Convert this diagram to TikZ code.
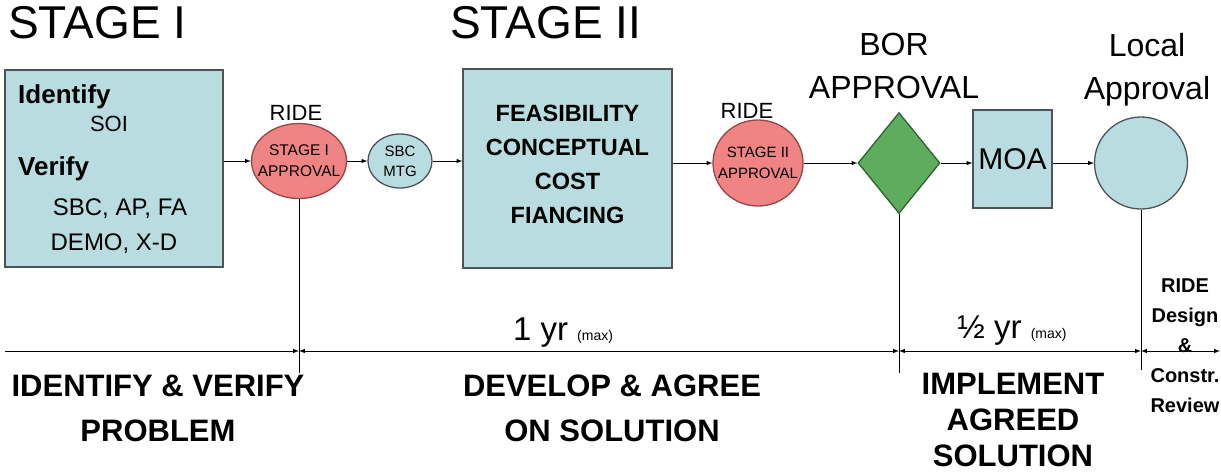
\documentclass[tikz,border=0pt]{standalone}
\usepackage{fontspec}
\setmainfont{Liberation Sans}
\usetikzlibrary{shapes.geometric,arrows}
\definecolor{boxblue}{RGB}{184,220,224}
\definecolor{ridepink}{RGB}{240,132,132}
\definecolor{ridered}{RGB}{150,70,70}
\definecolor{borgreen}{RGB}{94,172,94}
\definecolor{bordark}{RGB}{45,100,45}
\definecolor{edgegray}{RGB}{75,85,85}
\newcommand{\stagefont}{\fontsize{46}{46}\selectfont}
\newcommand{\headfont}{\fontsize{32}{43}\selectfont}
\newcommand{\boxheadfont}{\fontsize{26}{26}\selectfont\bfseries}
\newcommand{\boxtextfont}{\fontsize{24}{24}\selectfont}
\newcommand{\conceptfont}{\fontsize{23.5}{34}\selectfont\bfseries}
\newcommand{\ridetitlefont}{\fontsize{22}{22}\selectfont}
\newcommand{\spanfont}{\fontsize{33}{33}\selectfont}
\newcommand{\maxfont}{\fontsize{14}{14}\selectfont}
\newcommand{\phasefont}{\fontsize{31}{45}\selectfont\bfseries}
\newcommand{\implfont}{\fontsize{31}{36}\selectfont\bfseries}
\newcommand{\reviewfont}{\fontsize{20}{30}\selectfont\bfseries}
\tikzstyle{process} = [rectangle, draw = edgegray, fill = boxblue, line width = 1.3pt, align = center]
\tikzstyle{ride} = [ellipse, draw = ridered, fill = ridepink, line width = 1.3pt, inner sep = 0pt]
\tikzstyle{meeting} = [ellipse, draw = edgegray, fill = boxblue, line width = 1.3pt, inner sep = 0pt]
\tikzstyle{decision} = [diamond, draw = bordark, fill = borgreen, line width = 1.3pt, inner sep = 0pt]
\tikzstyle{textlabel} = [inner sep = 0pt, align = center]
\tikzstyle{arrow} = [line width = 1pt,->,>=latex]
\tikzstyle{timespan} = [line width = 1pt,<->,>=latex]
\tikzstyle{drop} = [line width = 0.9pt]
\begin{document}
\begin{tikzpicture}[x = 1pt, y = -1pt]
\useasboundingbox (0,0) rectangle (1221,475);

\node (stageone) [textlabel, anchor = base west, font = \stagefont] at (8,38) {STAGE I};
\node (stagetwo) [textlabel, anchor = base west, font = \stagefont] at (450,38) {STAGE II};

\node (identify) [process, minimum width = 218pt, minimum height = 197pt] at (114,168.5) {};
\node (idhead) [textlabel, anchor = base west, font = \boxheadfont] at (18,103) {Identify};
\node (soi) [textlabel, anchor = base, font = \fontsize{22}{22}\selectfont] at (109,131) {SOI};
\node (verify) [textlabel, anchor = base west, font = \boxheadfont] at (18,175) {Verify};
\node (sbcap) [textlabel, anchor = base, font = \boxtextfont] at (120,215) {SBC, AP, FA};
\node (demo) [textlabel, anchor = base, font = \boxtextfont] at (114,250) {DEMO, X-D};

\node (stagei) [ride, minimum width = 95pt, minimum height = 75pt] at (299,161) {};
\node (stageitext) [textlabel, font = \fontsize{15.5}{21}\selectfont] at (stagei) {STAGE I\\APPROVAL};
\node (rideone) [textlabel, anchor = base, font = \ridetitlefont] at (296,120) {RIDE};

\node (sbc) [meeting, minimum width = 64pt, minimum height = 54pt] at (400,161) {};
\node (sbctext) [textlabel, font = \fontsize{15}{20}\selectfont] at (sbc) {SBC\\MTG};

\node (concept) [process, minimum width = 209pt, minimum height = 199pt] at (567.5,168.5) {};
\node (concepttext) [textlabel, font = \conceptfont] at (567.5,164) {FEASIBILITY\\CONCEPTUAL\\COST\\FIANCING};

\node (stageii) [ride, minimum width = 90pt, minimum height = 86pt] at (758,163) {};
\node (stageiitext) [textlabel, font = \fontsize{15}{21}\selectfont] at (stageii) {STAGE II\\APPROVAL};
\node (ridetwo) [textlabel, anchor = base, font = \ridetitlefont] at (747,118) {RIDE};

\node (bor) [decision, minimum width = 82pt, minimum height = 101pt] at (899,163) {};
\node (borlabel) [textlabel, anchor = north, font = \headfont] at (894,33) {BOR\\APPROVAL};

\node (moa) [process, minimum width = 79pt, minimum height = 98pt, font = \fontsize{30}{30}\selectfont] at (1012.5,159) {MOA};

\node (local) [meeting, minimum width = 93pt, minimum height = 92pt] at (1141,163) {};
\node (locallabel) [textlabel, anchor = north, font = \headfont] at (1147,33) {Local\\Approval};

\draw [arrow] (identify.east |- stagei) -- (stagei);
\draw [arrow] (stagei) -- (sbc);
\draw [arrow] (sbc) -- (concept.west |- sbc);
\draw [arrow] (concept.east |- stageii) -- (stageii);
\draw [arrow] (stageii) -- (bor);
\draw [arrow] (bor) -- (moa.west |- bor);
\draw [arrow] (moa.east |- local) -- (local);

\coordinate (t0) at (5,351);
\coordinate (t1) at (299,351);
\coordinate (t2) at (899,351);
\coordinate (t3) at (1141,351);
\coordinate (t4) at (1220,351);
\coordinate (d1) at (299,373);
\coordinate (d2) at (899,373);
\coordinate (d3) at (1141,370);

\draw [drop] (stagei.south) -- (d1);
\draw [drop] (bor.south) -- (d2);
\draw [drop] (local.south) -- (d3);

\draw [arrow] (t0) -- (t1);
\draw [timespan] (t1) -- (t2);
\draw [timespan] (t2) -- (t3);
\draw [timespan] (t3) -- (t4);

\node (oneyear) [textlabel, anchor = base, font = \spanfont] at (563,340) {1 yr {\maxfont (max)}};
\node (halfyear) [textlabel, anchor = base, font = \spanfont] at (1012,338) {½ yr {\maxfont (max)}};

\node (phaseone) [textlabel, anchor = north, font = \phasefont] at (158,375) {IDENTIFY \& VERIFY\\PROBLEM};
\node (phasetwo) [textlabel, anchor = north, font = \phasefont] at (612,375) {DEVELOP \& AGREE\\ON SOLUTION};
\node (phasethree) [textlabel, anchor = north, font = \implfont] at (1013,373) {IMPLEMENT\\AGREED\\SOLUTION};
\node (phasefour) [textlabel, anchor = north, font = \reviewfont] at (1185,279) {RIDE\\Design\\\&\\Constr.\\Review};

\end{tikzpicture}
\end{document}
